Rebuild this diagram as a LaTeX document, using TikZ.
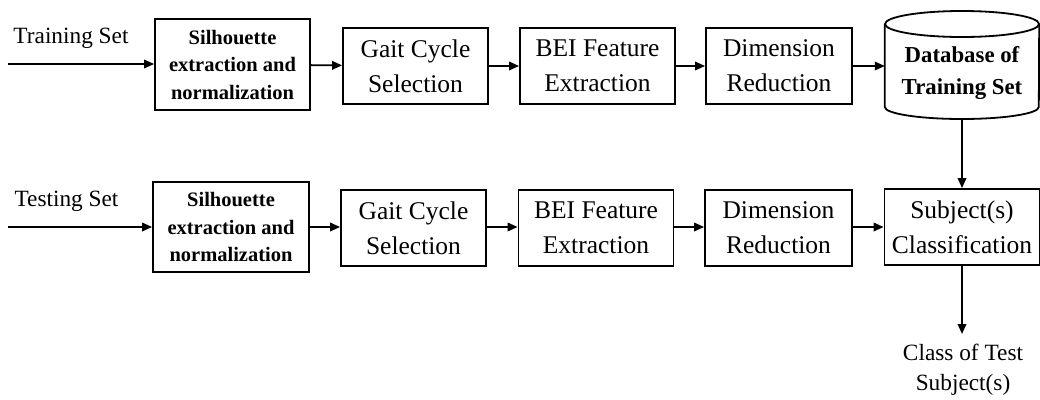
\documentclass[tikz,border=0pt]{standalone}
\usepackage{fontspec}
\setmainfont{Liberation Serif}
\usetikzlibrary{arrows.meta}
\tikzset{
  box/.style={draw, line width=1.8pt, inner sep=0pt, align=center,
              font=\fontsize{25.5pt}{35pt}\selectfont},
  bbox/.style={draw, line width=1.8pt, inner sep=0pt, align=center,
              font=\fontsize{20.5pt}{27.5pt}\selectfont\bfseries},
  lab/.style={inner sep=0pt, align=center, font=\fontsize{23.3pt}{31pt}\selectfont},
  arr/.style={line width=1.8pt, -{Triangle[length=10pt,width=8.5pt]}}
}
\begin{document}
\begin{tikzpicture}[x=1pt,y=-1pt]
\useasboundingbox (0,0) rectangle (1040,399);
% training row
\node[lab] (trlab) at (71,38) {Training Set};
\coordinate (trin) at (8,64);
\node[bbox, minimum width=155pt, minimum height=91pt] (tr1) at (232.5,64.5) {Silhouette\\extraction and\\normalization};
\node[box, minimum width=145pt, minimum height=76pt] (tr2) at (415.5,66) {Gait Cycle\\Selection};
\node[box, minimum width=155pt, minimum height=76pt] (tr3) at (597.5,66) {BEI Feature\\Extraction};
\node[box, minimum width=146pt, minimum height=76pt] (tr4) at (779,66) {Dimension\\Reduction};
\node[minimum width=154pt, minimum height=108pt, inner sep=0pt] (db) at (962,65) {};
\draw[line width=1.8pt] (962,24) ellipse [x radius=77pt, y radius=13pt];
\draw[line width=1.8pt] (db.west |- 0,24) -- (db.west |- 0,107)
   arc[start angle=180, end angle=360, x radius=77pt, y radius=12pt] -- (db.east |- 0,24);
\node[inner sep=0pt, align=center, font=\fontsize{22.8pt}{32pt}\selectfont\bfseries] (dbtxt) at (962,73) {Database of\\Training Set};
% testing row
\node[lab] (telab) at (66.5,201) {Testing Set};
\coordinate (tein) at (8,227);
\node[bbox, minimum width=156pt, minimum height=90pt] (te1) at (231,227) {Silhouette\\extraction and\\normalization};
\node[box, minimum width=145pt, minimum height=76pt] (te2) at (413.5,228) {Gait Cycle\\Selection};
\node[box, minimum width=155pt, minimum height=76pt] (te3) at (596,228) {BEI Feature\\Extraction};
\node[box, minimum width=147pt, minimum height=76pt] (te4) at (778.5,228) {Dimension\\Reduction};
\node[box, minimum width=155pt, minimum height=76pt] (cls) at (962,227) {Subject(s)\\Classification};
\coordinate (outpt) at (962,334);
\node[lab, font=\fontsize{23.3pt}{30pt}\selectfont] (res) at (963,370) {Class of Test\\Subject(s)};
% connectors
\draw[arr] (trin) -- (tr1.west |- trin);
\draw[arr] (tr1) -- (tr2);
\draw[arr] (tr2) -- (tr3);
\draw[arr] (tr3) -- (tr4);
\draw[arr] (tr4.east) -- (db.west |- tr4.east);
\draw[arr] (db.south) -- (cls.north);
\draw[arr] (tein) -- (te1.west |- tein);
\draw[arr] (te1.east |- cls.west) -- (te2.west |- cls.west);
\draw[arr] (te2.east |- cls.west) -- (te3.west |- cls.west);
\draw[arr] (te3.east |- cls.west) -- (te4.west |- cls.west);
\draw[arr] (te4.east |- cls.west) -- (cls.west);
\draw[arr] (cls.south) -- (outpt);
\end{tikzpicture}
\end{document}
